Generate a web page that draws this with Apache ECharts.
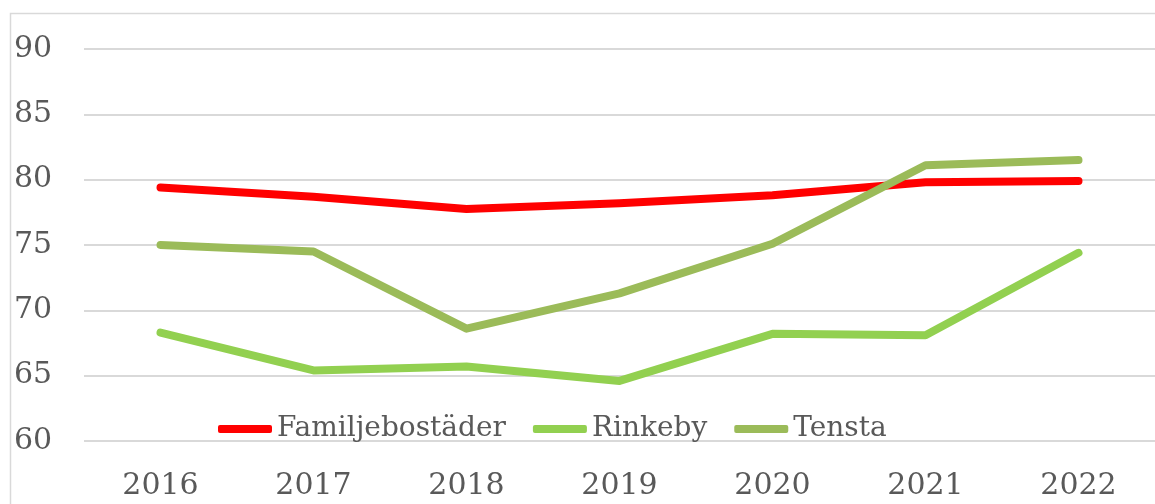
<!DOCTYPE html>
<html>
<head>
<meta charset="utf-8">
<script src="https://cdn.jsdelivr.net/npm/echarts@6/dist/echarts.min.js"></script>
<style>
  html, body { margin: 0; padding: 0; background: #fff; }
  #chart { width: 1155px; height: 504px; }
</style>
</head>
<body>
<div id="chart"></div>
<script>
// years on the x axis
const years = ['2016', '2017', '2018', '2019', '2020', '2021', '2022']
// values
const familjebostader = [79.4, 78.7, 77.75, 78.2, 78.8, 79.8, 79.9]
const rinkeby = [68.3, 65.4, 65.7, 64.6, 68.2, 68.1, 74.4]
const tensta = [75.0, 74.5, 68.6, 71.3, 75.1, 81.1, 81.5]

const font = 'DejaVu Serif'
const textColor = '#595959'

const chart = echarts.init(document.getElementById('chart'))

function line(name, data, color) {
  return {
    name: name,
    type: 'line',
    data: data,
    symbol: 'none',
    smooth: false,
    color: color,
    lineStyle: { width: 8, color: color, cap: 'round', join: 'round' }
  }
}

chart.setOption({
  backgroundColor: '#fff',
  animation: false,
  graphic: [{
    type: 'rect',
    shape: { x: 10.5, y: 13.5, width: 1300, height: 600 },
    style: { fill: 'none', stroke: '#d9d9d9', lineWidth: 1.5 },
    z: 0
  }],
  legend: {
    left: 218,
    top: 415,
    padding: 0,
    icon: 'roundRect',
    itemWidth: 54,
    itemHeight: 8,
    itemGap: 27,
    textStyle: { fontFamily: font, fontSize: 28, color: textColor },
    data: ['Familjebostäder', 'Rinkeby', 'Tensta']
  },
  grid: {
    left: 84,
    right: -6,
    top: 49,
    bottom: 63,
    containLabel: false
  },
  xAxis: {
    type: 'category',
    data: years,
    boundaryGap: true,
    axisLine: { show: false },
    axisTick: { show: false },
    axisLabel: {
      fontFamily: font, fontSize: 30, color: textColor, margin: 30
    }
  },
  yAxis: {
    type: 'value',
    min: 60,
    max: 90,
    interval: 5,
    axisLine: { show: false },
    axisTick: { show: false },
    axisLabel: {
      fontFamily: font, fontSize: 30, color: textColor,
      align: 'left', margin: 70
    },
    splitLine: { lineStyle: { color: '#d9d9d9', width: 2 } }
  },
  series: [
    line('Familjebostäder', familjebostader, '#ff0000'),
    line('Rinkeby', rinkeby, '#92d050'),
    line('Tensta', tensta, '#9bbb59')
  ]
})
</script>
</body>
</html>
